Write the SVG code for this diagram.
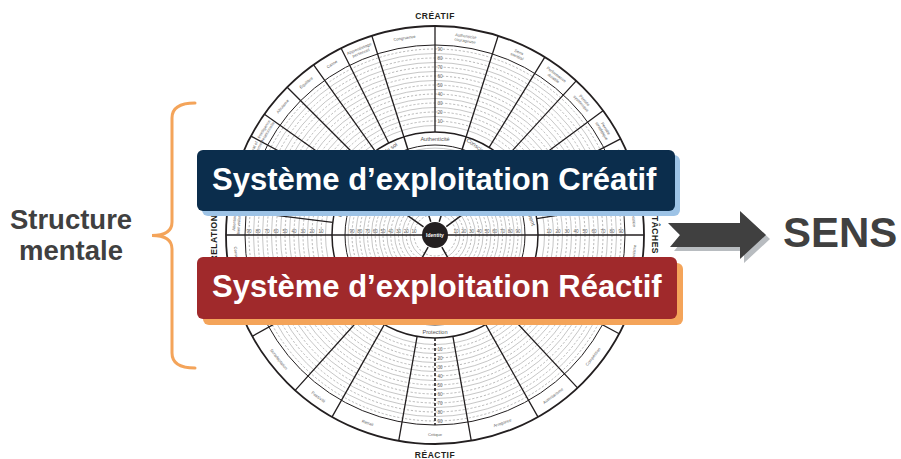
<svg xmlns="http://www.w3.org/2000/svg" width="901" height="459" viewBox="0 0 901 459">
<style>
.ln{stroke:#231f20;fill:none}
.sc{stroke:#a0a0a0;stroke-width:.6;fill:none}
.scd{stroke:#8a8a8a;stroke-width:.6;stroke-dasharray:2.2 1.8;fill:none}
.lab{font-family:"Liberation Sans",Arial,sans-serif;font-size:4.1px;fill:#666;text-anchor:middle;dominant-baseline:central}
.dim{font-family:"Liberation Sans",Arial,sans-serif;font-size:5.6px;fill:#555;text-anchor:middle;dominant-baseline:central}
.num{font-family:"Liberation Sans",Arial,sans-serif;font-size:4.6px;fill:#666;text-anchor:middle;dominant-baseline:central}
.axis{font-family:"Liberation Sans",Arial,sans-serif;font-size:8.5px;font-weight:bold;fill:#231f20;text-anchor:middle;letter-spacing:.5px}
.band{font-family:"Liberation Sans",Arial,sans-serif;font-size:31px;font-weight:bold;fill:#ffffff}
.big{font-family:"Liberation Sans",Arial,sans-serif;font-weight:bold;fill:#404040}
</style>
<rect width="901" height="459" fill="#ffffff"/>

<g id="chart">
  <g>
    <circle cx="435" cy="235" r="209" fill="#ffffff"/>
    <g class="scd">
      <circle cx="435" cy="235" r="114"/><circle cx="435" cy="235" r="123"/><circle cx="435" cy="235" r="132"/>
      <circle cx="435" cy="235" r="141"/><circle cx="435" cy="235" r="150"/><circle cx="435" cy="235" r="159"/>
      <circle cx="435" cy="235" r="168"/><circle cx="435" cy="235" r="177"/><circle cx="435" cy="235" r="186"/>
      <circle cx="435" cy="235" r="21"/><circle cx="435" cy="235" r="28.75"/><circle cx="435" cy="235" r="36.5"/>
      <circle cx="435" cy="235" r="44.25"/><circle cx="435" cy="235" r="52"/><circle cx="435" cy="235" r="59.75"/>
      <circle cx="435" cy="235" r="67.5"/><circle cx="435" cy="235" r="75.25"/><circle cx="435" cy="235" r="83"/>
    </g>
    <g class="sc">
      <circle cx="435" cy="235" r="109.5"/><circle cx="435" cy="235" r="118.5"/><circle cx="435" cy="235" r="127.5"/><circle cx="435" cy="235" r="136.5"/>
      <circle cx="435" cy="235" r="145.5"/><circle cx="435" cy="235" r="154.5"/><circle cx="435" cy="235" r="163.5"/>
      <circle cx="435" cy="235" r="172.5"/><circle cx="435" cy="235" r="181.5"/>
      <circle cx="435" cy="235" r="24.9"/><circle cx="435" cy="235" r="32.6"/><circle cx="435" cy="235" r="40.4"/>
      <circle cx="435" cy="235" r="48.1"/><circle cx="435" cy="235" r="55.9"/><circle cx="435" cy="235" r="63.6"/>
      <circle cx="435" cy="235" r="71.4"/><circle cx="435" cy="235" r="79.1"/><circle cx="435" cy="235" r="86.9"/>
    </g>
    <circle cx="435" cy="235" r="199.5" fill="none" stroke="#ffffff" stroke-width="19"/>
    <circle cx="435" cy="235" r="96.5" fill="none" stroke="#ffffff" stroke-width="13"/>
    <circle class="ln" cx="435" cy="235" r="209" stroke-width="1.8"/>
    <circle class="ln" cx="435" cy="235" r="190" stroke-width="1"/>
    <circle class="ln" cx="435" cy="235" r="103" stroke-width="1.5"/>
    <circle class="ln" cx="435" cy="235" r="90" stroke-width="1"/>
    <path class="ln" stroke-width="1.3" d="M332.78,222.34L227.58,209.31M335.11,209.87L232.31,184.02M338.96,197.78L240.12,159.48M344.27,186.25L250.89,136.09M350.94,175.48L264.43,114.23M362.17,162.17L287.21,87.21M375.19,151.15L313.63,64.85M388.72,142.98L341.09,48.29M403.86,136.82L371.8,35.78M435,132L435,26M466.14,136.82L498.2,35.78M489.12,147.37L544.82,57.18M504.59,159.06L576.2,80.91M517.8,173.73L603.01,110.68M526.45,187.6L620.55,138.82M532.82,202.74L633.49,169.55M536.7,218.71L641.37,201.94M534.9,260.09L637.7,285.92M525.77,283.67L619.19,333.76M505.25,310.33L577.54,387.85M485.72,324.65L537.92,416.91M452.89,336.44L471.29,440.83M417.11,336.44L398.71,440.83M384.28,324.65L332.08,416.91M366.08,311.54L295.15,390.32M344.91,284.94L252.2,336.33M335.28,260.79L232.66,287.33"/>
    <path class="ln" stroke-width="1.5" d="M423.57,226.91L350.94,175.48M430.77,221.66L403.86,136.82M439.23,221.66L466.14,136.82M446.25,226.67L517.8,173.73M441.89,247.19L485.72,324.65M428.11,247.19L384.28,324.65M226,235L644,235"/>
    <path class="ln" stroke-width="1.6" stroke-dasharray="3 2" d="M435,338L435,425"/>
  </g>
  <g class="num">
    <text x="440" y="121">10</text><text x="440" y="112">20</text><text x="440" y="103">30</text><text x="440" y="94">40</text><text x="440" y="85">50</text><text x="440" y="76">60</text><text x="440" y="67">70</text><text x="440" y="58">80</text><text x="440" y="49">90</text>
    <text x="440" y="349">10</text><text x="440" y="358">20</text><text x="440" y="367">30</text><text x="440" y="376">40</text><text x="440" y="385">50</text><text x="440" y="394">60</text><text x="440" y="403">70</text><text x="440" y="412">80</text><text x="440" y="421">90</text>
    <text x="549" y="231">10</text><text x="558" y="231">20</text><text x="567" y="231">30</text><text x="576" y="231">40</text><text x="585" y="231">50</text><text x="594" y="231">60</text><text x="603" y="231">70</text><text x="612" y="231">80</text><text x="621" y="231">90</text>
    <text x="321" y="231">10</text><text x="312" y="231">20</text><text x="303" y="231">30</text><text x="294" y="231">40</text><text x="285" y="231">50</text><text x="276" y="231">60</text><text x="267" y="231">70</text><text x="258" y="231">80</text><text x="249" y="231">90</text>
    <text x="456" y="231">10</text><text x="463.75" y="231">20</text><text x="471.5" y="231">30</text><text x="479.25" y="231">40</text><text x="487" y="231">50</text><text x="494.75" y="231">60</text><text x="502.5" y="231">70</text><text x="510.25" y="231">80</text><text x="518" y="231">90</text>
    <text x="414" y="231">10</text><text x="406.25" y="231">20</text><text x="398.5" y="231">30</text><text x="390.75" y="231">40</text><text x="383" y="231">50</text><text x="375.25" y="231">60</text><text x="367.5" y="231">70</text><text x="359.75" y="231">80</text><text x="352" y="231">90</text>
  </g>
  <g class="lab">
    <text transform="translate(235.88,222.72) rotate(-86.47)"><tspan x="0" y="-2.3">Attention</tspan><tspan x="0" y="2.3">bienveillante</tspan></text>
    <text transform="translate(238.9,198.34) rotate(-79.41)"><tspan x="0" y="-2.3">Travail</tspan><tspan x="0" y="2.3">d’équipe</tspan></text>
    <text transform="translate(244.89,174.51) rotate(-72.35)">Collaboration</text>
    <text transform="translate(253.78,151.58) rotate(-65.29)"><tspan x="0" y="-2.3">Mentorat et</tspan><tspan x="0" y="2.3">développement</tspan></text>
    <text transform="translate(265.38,129.98) rotate(-58.23)"><tspan x="0" y="-2.3">Intelligence</tspan><tspan x="0" y="2.3">relationnelle</tspan></text>
    <text transform="translate(282.51,106.36) rotate(-49.85)">Altruisme</text>
    <text transform="translate(306.14,82.7) rotate(-40.25)">Équilibre</text>
    <text transform="translate(331.95,64.17) rotate(-31.1)">Calme</text>
    <text transform="translate(359.79,50.22) rotate(-22.15)"><tspan x="0" y="-2.3">Apprentissage</tspan><tspan x="0" y="2.3">personnel</tspan></text>
    <text transform="translate(404.48,37.85) rotate(-8.8)">Congruence</text>
    <text transform="translate(465.52,37.85) rotate(8.8)"><tspan x="0" y="-2.3">Authenticité</tspan><tspan x="0" y="2.3">courageuse</tspan></text>
    <text transform="translate(518.2,53.68) rotate(24.65)"><tspan x="0" y="-2.3">Sens</tspan><tspan x="0" y="2.3">sociétal</tspan></text>
    <text transform="translate(555.34,75.88) rotate(37.1)"><tspan x="0" y="-2.3">Performance</tspan><tspan x="0" y="2.3">durable</tspan></text>
    <text transform="translate(583.26,101.51) rotate(48)"><tspan x="0" y="-2.3">Pensée</tspan><tspan x="0" y="2.3">systémique</tspan></text>
    <text transform="translate(604.28,129.43) rotate(58.05)"><tspan x="0" y="-2.3">Pensée</tspan><tspan x="0" y="2.3">stratégique</tspan></text>
    <text transform="translate(618.91,157.69) rotate(67.2)"><tspan x="0" y="-2.3">Vision et</tspan><tspan x="0" y="2.3">sens</tspan></text>
    <text transform="translate(628.82,187.75) rotate(76.3)">Résultats</text>
    <text transform="translate(633.87,219.17) rotate(85.45)">Décision</text>
    <text transform="translate(632.99,259.49) rotate(-82.95)">Perfectionnisme</text>
    <text transform="translate(621.06,306.98) rotate(-68.85)">Surmenage</text>
    <text transform="translate(593.06,356.72) rotate(-52.4)">Compétition</text>
    <text transform="translate(552.97,395.88) rotate(-36.25)">Autoritarisme</text>
    <text transform="translate(502.41,422.76) rotate(-19.75)">Arrogance</text>
    <text transform="translate(435,434.5)">Critique</text>
    <text transform="translate(367.59,422.76) rotate(19.75)">Retrait</text>
    <text transform="translate(318.44,396.91) rotate(35.75)">Passivité</text>
    <text transform="translate(278.87,359.19) rotate(51.5)">Suradaptation</text>
    <text transform="translate(249.7,308.93) rotate(68.25)">Appartenance</text>
    <text transform="translate(237.1,260.18) rotate(82.75)">Conservatisme</text>
  </g>
  <g class="dim">
    <text transform="translate(435,138.5)">Authenticité</text>
    <text transform="translate(378.07,157.07) rotate(-36.15)">Conscience de soi</text>
    <text transform="translate(343.04,205.74) rotate(-72.35)">Relations</text>
    <text transform="translate(491.11,156.49) rotate(35.55)">Conscience systémique</text>
    <text transform="translate(526.65,204.78) rotate(71.75)">Accomplissement</text>
    <text transform="translate(518.37,283.61) rotate(-59.75)">Contrôle</text>
    <text transform="translate(435,331.5)">Protection</text>
    <text transform="translate(351.63,283.61) rotate(59.75)">Conformité</text>
  </g>
  <circle cx="435" cy="235" r="13" fill="#231f20"/>
  <text x="435" y="235" font-family="Liberation Sans, Arial, sans-serif" font-size="5" font-weight="bold" fill="#ffffff" text-anchor="middle" dominant-baseline="central">Identity</text>
  <text class="axis" x="435" y="18.5">CRÉATIF</text>
  <text class="axis" x="435" y="457.5">RÉACTIF</text>
  <text class="axis" transform="translate(216.5,235) rotate(-90)">RELATIONS</text>
  <text class="axis" transform="translate(652,235) rotate(90)">TÂCHES</text>
</g>

<g id="creatif">
  <rect x="202" y="155" width="478" height="61" rx="6" fill="#9DC3E6"/>
  <rect x="197" y="150" width="478" height="61" rx="6" fill="#0B2D4C"/>
  <text class="band" x="212" y="189.5">Système d’exploitation Créatif</text>
</g>

<g id="reactif">
  <rect x="203" y="263" width="480" height="62" rx="6" fill="#F4A45A"/>
  <rect x="197" y="257" width="480" height="62" rx="6" fill="#A0292B"/>
  <text class="band" x="212" y="296.5">Système d’exploitation Réactif</text>
</g>

<g id="structure">
  <text class="big" font-size="27.5" text-anchor="middle" x="71" y="229">Structure</text>
  <text class="big" font-size="27.5" text-anchor="middle" x="71" y="260">mentale</text>
</g>

<g id="sens">
  <text class="big" font-size="42" x="783" y="247">SENS</text>
</g>

<g id="connectors">
  <path d="M195,103 Q172,103 172,118 L172,222 Q172,235.5 152,235.5 Q172,235.5 172,249 L172,353 Q172,368 195,368" fill="none" stroke="#F4A45A" stroke-width="3" stroke-linecap="round"/>
  <polygon points="672,227 744,227 744,215 770,239 744,263 744,251 674,251 684,239" fill="#B8BCC0"/>
  <polygon points="668,223 740,223 740,211 766,235 740,259 740,247 670,247 680,235" fill="#404040"/>
</g>
</svg>
